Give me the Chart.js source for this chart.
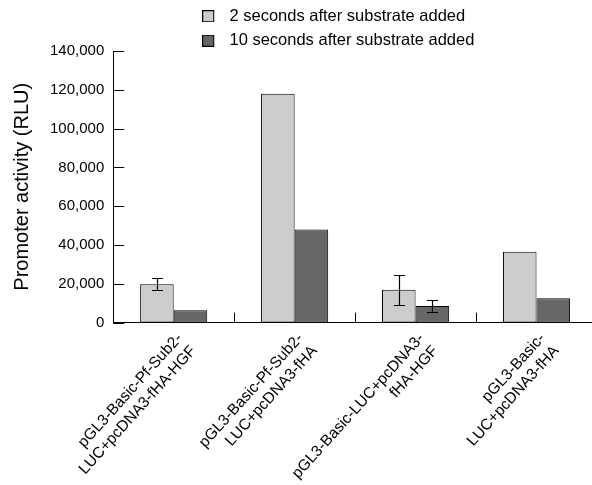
<!DOCTYPE html>
<html>
<head>
<meta charset="utf-8">
<script src="https://cdn.jsdelivr.net/npm/chart.js@4"></script>
<style>
  html, body { margin: 0; padding: 0; background: #fff; }
  #wrap { width: 592px; height: 485px; overflow: hidden; }
  canvas { display: block; }
</style>
</head>
<body>
<div id="wrap"><canvas id="chart" width="597" height="485"></canvas></div>
<script>
// --- Data ---
const categories = [
  ['pGL3-Basic-Pf-Sub2-', 'LUC+pcDNA3-fHA-HGF'],
  ['pGL3-Basic-Pf-Sub2-', 'LUC+pcDNA3-fHA'],
  ['pGL3-Basic-LUC+pcDNA3-', 'fHA-HGF'],
  ['pGL3-Basic-', 'LUC+pcDNA3-fHA']
];
const seriesNames = ['2 seconds after substrate added', '10 seconds after substrate added'];
const twoSeconds = [19800, 118000, 16900, 36500];
const tenSeconds = [6400, 48000, 8600, 12600];
const twoSecondsErr = [3000, 0, 7600, 0];
const tenSecondsErr = [0, 0, 3300, 0];
const yTicks = [0, 20000, 40000, 60000, 80000, 100000, 120000, 140000];

const FONT = '"Liberation Sans", Arial, Helvetica, sans-serif';
const COLORS = ['#cccccc', '#666666'];
const errorSets = [twoSecondsErr, tenSecondsErr];

// small legend swatch with room after it, so the text sits further right
function makeSwatch(fill) {
  const c = document.createElement('canvas');
  c.width = 19; c.height = 12;
  const g = c.getContext('2d');
  g.fillStyle = fill;
  g.fillRect(0.5, 0.5, 11, 11);
  g.strokeStyle = '#000';
  g.lineWidth = 1;
  g.strokeRect(0.5, 0.5, 11, 11);
  return c;
}
const swatches = COLORS.map(makeSwatch);

// --- Plugins ---
const errorBars = {
  id: 'errorBars',
  afterDatasetsDraw(chart) {
    const ctx = chart.ctx;
    const yScale = chart.scales.y;
    ctx.save();
    ctx.strokeStyle = '#000';
    ctx.lineWidth = 1.2;
    errorSets.forEach((errs, i) => {
      const values = chart.data.datasets[i].data;
      chart.getDatasetMeta(i).data.forEach((bar, j) => {
        const err = errs[j];
        if (!err) return;
        const x = Math.round(bar.x) + 0.5;
        const top = Math.round(yScale.getPixelForValue(values[j] + err)) + 0.5;
        const bot = Math.round(yScale.getPixelForValue(values[j] - err)) + 0.5;
        ctx.beginPath();
        ctx.moveTo(x, top); ctx.lineTo(x, bot);
        ctx.moveTo(x - 5.5, top); ctx.lineTo(x + 5.5, top);
        ctx.moveTo(x - 5.5, bot); ctx.lineTo(x + 5.5, bot);
        ctx.stroke();
      });
    });
    ctx.restore();
  }
};

// tick marks pointing into the plot
const innerTicks = {
  id: 'innerTicks',
  afterDraw(chart) {
    const { ctx, chartArea: a, scales: { x, y } } = chart;
    ctx.save();
    ctx.strokeStyle = '#000';
    ctx.lineWidth = 1;
    ctx.beginPath();
    y.ticks.forEach(t => {
      const py = Math.round(y.getPixelForValue(t.value)) + 0.5;
      ctx.moveTo(a.left, py);
      ctx.lineTo(a.left + 11, py);
    });
    for (let i = 1; i < categories.length; i++) {
      const px = Math.round((x.getPixelForValue(i - 1) + x.getPixelForValue(i)) / 2) + 0.5;
      ctx.moveTo(px, a.bottom);
      ctx.lineTo(px, a.bottom - 10);
    }
    ctx.stroke();
    ctx.restore();
  }
};

const legendPlacement = {
  id: 'legendPlacement',
  beforeLayout(chart) {
    const lg = chart.legend;
    if (lg && !lg._fitPatched) {
      const fit = lg.fit;
      lg.fit = function () { fit.call(this); this.height -= 8; };
      lg._fitPatched = true;
    }
  },
  afterLayout(chart) {
    const lg = chart.legend;
    lg.left += 81;
    lg.right += 81;
  }
};

// --- Chart ---
new Chart(document.getElementById('chart'), {
  type: 'bar',
  data: {
    labels: categories,
    datasets: [
      { label: seriesNames[0], data: twoSeconds, backgroundColor: COLORS[0], borderColor: '#000', borderWidth: 1 },
      { label: seriesNames[1], data: tenSeconds, backgroundColor: COLORS[1], borderColor: '#000', borderWidth: 1 }
    ]
  },
  options: {
    responsive: false,
    animation: false,
    layout: { padding: { top: 0, left: 0, right: 0, bottom: -17 } },
    datasets: { bar: { categoryPercentage: 0.555, barPercentage: 1, borderSkipped: false } },
    scales: {
      x: {
        offset: true,
        grid: { display: false, drawTicks: false },
        border: { display: true, color: '#000', width: 1 },
        ticks: {
          color: '#000', font: { family: FONT, size: 15.5 },
          minRotation: 48, maxRotation: 48, autoSkip: false, padding: 7, labelOffset: 6
        }
      },
      y: {
        min: 0, max: 140000,
        afterBuildTicks: (scale) => { scale.ticks = yTicks.map(v => ({ value: v })); },
        grid: { display: false, drawTicks: false },
        border: { display: true, color: '#000', width: 1 },
        ticks: {
          color: '#000', font: { family: FONT, size: 15 }, padding: 9,
          callback: (v) => Number(v).toLocaleString('en-US')
        },
        title: {
          display: true, text: 'Promoter activity (RLU)', color: '#000',
          font: { family: FONT, size: 20 }, padding: { top: 10, bottom: 7 }
        }
      }
    },
    plugins: {
      legend: {
        position: 'top', align: 'start', fullSize: false,
        labels: {
          color: '#000', font: { family: FONT, size: 16.5 }, padding: 8,
          usePointStyle: true, pointStyleWidth: 19, boxHeight: 11,
          generateLabels(chart) {
            return Chart.defaults.plugins.legend.labels.generateLabels(chart)
              .map((item, i) => Object.assign(item, { pointStyle: swatches[i] }));
          }
        }
      },
      tooltip: { enabled: false }
    }
  },
  plugins: [errorBars, innerTicks, legendPlacement]
});
</script>
</body>
</html>
